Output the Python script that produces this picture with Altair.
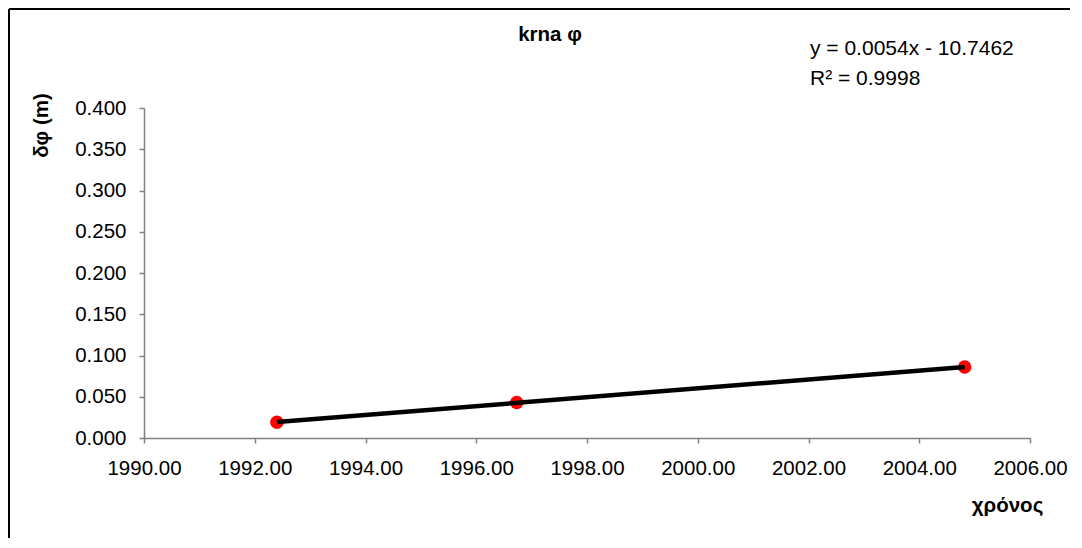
import altair as alt
import pandas as pd

# ---- data ----
years = [1992.40, 1996.73, 2004.82]
dphi = [0.019, 0.043, 0.086]
x_ticks = [1990, 1992, 1994, 1996, 1998, 2000, 2002, 2004, 2006]
y_ticks = [0.0, 0.05, 0.10, 0.15, 0.20, 0.25, 0.30, 0.35, 0.40]
chart_title = ["krna φ"]
x_title = "χρόνος"
y_title = "δφ (m)"
equation = ["y = 0.0054x - 10.7462\nR² = 0.9998"]

df = pd.DataFrame({"year": years, "dphi": dphi})
eq_df = pd.DataFrame({"eq": equation})
title_df = pd.DataFrame({"t": chart_title})
one = pd.DataFrame({"k": [0]})

FONT = "Liberation Sans"
W, H = 886, 330
PL, PT, PR, PB = 136, 100, 40, 100

x_enc = alt.X(
    "year:Q",
    scale=alt.Scale(domain=[1990, 2006], nice=False, zero=False),
    axis=alt.Axis(
        values=x_ticks, format=".2f", title=x_title,
        titleX=863, titleY=73, titleAlign="center", titleBaseline="alphabetic",
        labelPadding=15, labelFlush=False, labelOverlap=False,
    ),
)
y_enc = alt.Y(
    "dphi:Q",
    scale=alt.Scale(domain=[0, 0.4], nice=False),
    axis=alt.Axis(
        values=y_ticks, format=".3f", title=y_title,
        titleAngle=270, titleX=-93, titleY=17, titleAlign="center",
        titleBaseline="bottom", labelPadding=13, labelFlush=False, labelOverlap=False,
    ),
)

points = alt.Chart(df).mark_circle(color="#ff0000", size=180, opacity=1).encode(x=x_enc, y=y_enc)

trend = (
    alt.Chart(df)
    .transform_regression("year", "dphi", method="linear")
    .mark_line(color="#000000", strokeWidth=4.5)
    .encode(x="year:Q", y="dphi:Q")
)

eq_text = alt.Chart(eq_df).mark_text(
    align="left", baseline="alphabetic", font=FONT, fontSize=21,
    lineBreak="\n", lineHeight=30, color="#000000",
).encode(text="eq:N", x=alt.value(666), y=alt.value(-53))

title_text = alt.Chart(title_df).mark_text(
    align="center", baseline="alphabetic", font=FONT, fontSize=20.5,
    fontWeight="bold", color="#000000",
).encode(text="t:N", x=alt.value(406), y=alt.value(-67))

border_left = alt.Chart(one).mark_rule(color="#000000", strokeWidth=2).encode(
    x=alt.value(-PL + 1), y=alt.value(-PT + 1), y2=alt.value(H + PB)
)
border_top = alt.Chart(one).mark_rule(color="#000000", strokeWidth=2).encode(
    x=alt.value(-PL + 1), x2=alt.value(W + PR), y=alt.value(-PT + 1)
)

chart = (
    alt.layer(points, trend, eq_text, title_text, border_left, border_top)
    .properties(
        width=W, height=H,
        autosize=alt.AutoSizeParams(type="none"),
        padding={"left": PL, "top": PT, "right": PR, "bottom": PB},
    )
    .configure_view(stroke=None)
    .configure_axis(
        grid=False, domainColor="#808080", tickColor="#808080", tickSize=5,
        domainWidth=1.5, tickWidth=1.5,
        labelFont=FONT, labelFontSize=20.5, labelColor="#000000",
        titleFont=FONT, titleFontSize=20.5, titleFontWeight="bold", titleColor="#000000",
    )
)

chart.save("out.html", embed_options={"renderer": "svg", "actions": False})
